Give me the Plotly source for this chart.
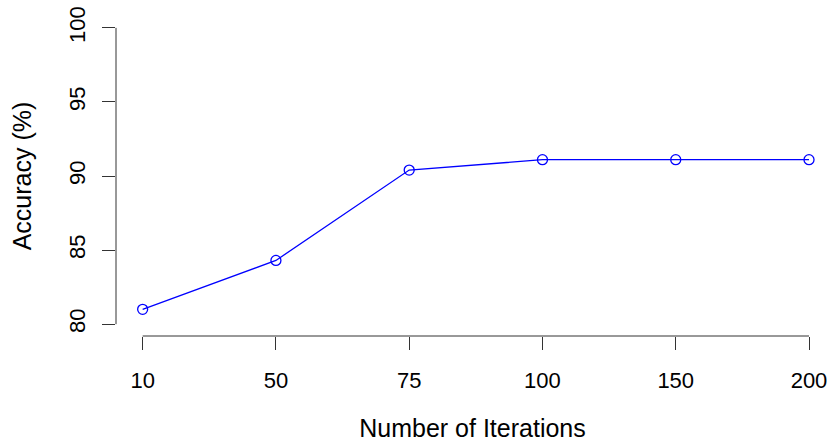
import plotly.graph_objects as go

iterations = ["10", "50", "75", "100", "150", "200"]
accuracy = [81.0, 84.3, 90.4, 91.1, 91.1, 91.1]
y_ticks = [80, 85, 90, 95, 100]

xpos = list(range(1, len(iterations) + 1))

fig = go.Figure()
fig.add_trace(go.Scatter(
    x=xpos, y=accuracy, mode="lines+markers",
    line=dict(color="#0000FF", width=1.3),
    marker=dict(symbol="circle-open", size=10, color="#0000FF",
                line=dict(color="#0000FF", width=1.3)),
    showlegend=False,
))

tick_font = dict(family="Liberation Sans, Arial, sans-serif", size=22, color="#000000")
title_font = dict(family="Liberation Sans, Arial, sans-serif", size=25, color="#000000")

fig.update_layout(
    width=829, height=442,
    margin=dict(l=116, r=0, t=16, b=106),
    plot_bgcolor="white", paper_bgcolor="white",
    font=tick_font,
    xaxis=dict(
        range=[0.8, 6.15], tickmode="array", tickvals=xpos, ticktext=iterations,
        showgrid=False, zeroline=False, showline=False, automargin=False,
        ticks="outside", ticklen=13, tickwidth=1, tickcolor="#333333",
        tickfont=tick_font, ticklabelstandoff=12,
        title=dict(text="Number of Iterations", font=title_font, standoff=27),
    ),
    yaxis=dict(
        range=[79.2, 100.8], tickmode="array", tickvals=y_ticks,
        ticktext=[str(v) for v in y_ticks],
        showgrid=False, zeroline=False, showline=False, automargin=False,
        ticks="outside", ticklen=13, tickwidth=1, tickcolor="#333333",
        tickfont=tick_font, tickangle=-90, ticklabelstandoff=8,
        title=dict(text="Accuracy (%)", font=title_font, standoff=26),
    ),
)

# axis lines spanning only first to last tick, as in R base graphics
fig.add_shape(type="line", xref="x", yref="paper", x0=xpos[0], x1=xpos[-1], y0=0, y1=0,
              line=dict(color="#333333", width=1))
fig.add_shape(type="line", xref="paper", yref="y", x0=0, x1=0, y0=y_ticks[0], y1=y_ticks[-1],
              line=dict(color="#333333", width=1))

fig.write_html("out.html")
